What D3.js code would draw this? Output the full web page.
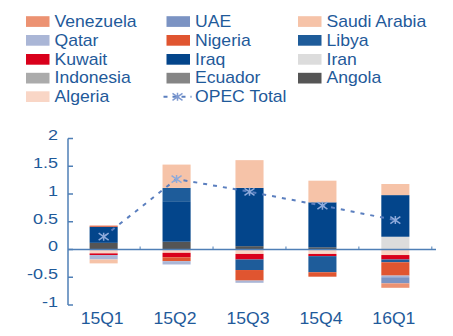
<!DOCTYPE html>
<html>
<head>
<meta charset="utf-8">
<script src="https://cdn.jsdelivr.net/npm/d3@7"></script>
<style>
  html, body { margin: 0; padding: 0; background: #fff; }
  svg { display: block; font-family: "Liberation Sans", Arial, sans-serif; }
</style>
</head>
<body>
<svg id="chart" width="453" height="336"></svg>
<script>
// ---- data ----
const quarters = ["15Q1", "15Q2", "15Q3", "15Q4", "16Q1"];
const countries = ["Algeria", "Angola", "Ecuador", "Indonesia", "Iran", "Iraq", "Kuwait",
  "Libya", "Nigeria", "Qatar", "Saudi Arabia", "UAE", "Venezuela"];
const algeria     = [-0.07, -0.06, -0.08, -0.08, -0.10];
const angola      = [ 0.12,  0.14,  0.06,  0.04,  0.00];
const ecuador     = [ 0.00,  0.00,  0.00,  0.00,  0.00];
const indonesia   = [ 0.00,  0.00,  0.00,  0.00,  0.00];
const iran        = [ 0.00,  0.00,  0.00,  0.00,  0.23];
const iraq        = [ 0.29,  0.73,  1.05,  0.81,  0.75];
const kuwait      = [-0.03, -0.08, -0.10, -0.04, -0.08];
const libya       = [ 0.00,  0.24, -0.19, -0.29, -0.05];
const nigeria     = [ 0.02, -0.07, -0.19, -0.08, -0.24];
const qatar       = [-0.08, -0.06, -0.04,  0.00, -0.03];
const saudiArabia = [-0.07,  0.42,  0.50,  0.39,  0.20];
const uae         = [ 0.00,  0.00,  0.00,  0.00, -0.11];
const venezuela   = [ 0.00,  0.00,  0.00,  0.00, -0.08];
const opecTotal   = [ 0.23,  1.27,  1.04,  0.79,  0.53];
const yTicks = [-1, -0.5, 0, 0.5, 1, 1.5, 2];
const yTickLabels = ["-1", "-0.5", "0", "0.5", "1", "1.5", "2"];

const seriesValues = {
  "Algeria": algeria, "Angola": angola, "Ecuador": ecuador, "Indonesia": indonesia,
  "Iran": iran, "Iraq": iraq, "Kuwait": kuwait, "Libya": libya, "Nigeria": nigeria,
  "Qatar": qatar, "Saudi Arabia": saudiArabia, "UAE": uae, "Venezuela": venezuela
};
const colors = {
  "Venezuela": "#ec9272", "UAE": "#7b93c3", "Saudi Arabia": "#f6c3a8",
  "Qatar": "#aab6d6", "Nigeria": "#e05530", "Libya": "#1e5c9a",
  "Kuwait": "#d9001b", "Iraq": "#03458b", "Iran": "#dcdcdc",
  "Indonesia": "#ababab", "Ecuador": "#858585", "Angola": "#555555",
  "Algeria": "#f9d6c6"
};
const textColor = "#1f5a9a";
const axisColor = "#4f7fb6";
const lineColor = "#5b7fbf";
const markerColor = "#8eaadb";

// ---- build table ----
const table = quarters.map((q, i) => {
  const row = { quarter: q };
  countries.forEach(c => row[c] = seriesValues[c][i]);
  return row;
});

const svg = d3.select("#chart");

const x = d3.scaleBand().domain(quarters).range([67, 432]).paddingInner(0.615).paddingOuter(0.31);
const y = d3.scaleLinear().domain([-1, 2]).range([305, 138.5]);

const stack = d3.stack().keys(countries).order(d3.stackOrderNone).offset(d3.stackOffsetDiverging);
const stacked = stack(table);

// bars
svg.append("g").selectAll("g").data(stacked).join("g")
  .attr("fill", d => colors[d.key])
  .selectAll("rect").data(d => d).join("rect")
  .attr("x", d => x(d.data.quarter))
  .attr("width", x.bandwidth())
  .attr("y", d => y(Math.max(d[0], d[1])))
  .attr("height", d => Math.abs(y(d[0]) - y(d[1])));

// y axis
const yAxis = svg.append("g");
yAxis.append("line")
  .attr("x1", 68).attr("x2", 68)
  .attr("y1", y(2)).attr("y2", y(-1))
  .attr("stroke", axisColor).attr("stroke-width", 1.5);
yAxis.selectAll(".tk").data(yTicks).join("line")
  .attr("x1", 68).attr("x2", 73)
  .attr("y1", d => y(d)).attr("y2", d => y(d))
  .attr("stroke", axisColor).attr("stroke-width", 1.5);
yAxis.selectAll(".lb").data(yTicks).join("g")
  .attr("transform", d => `translate(58,${y(d) + 1.8}) scale(1.2,1)`)
  .append("text")
  .attr("text-anchor", "end")
  .attr("font-size", 15)
  .attr("fill", textColor)
  .text((d, i) => yTickLabels[i]);

// zero line (x axis)
svg.append("line")
  .attr("x1", 68).attr("x2", x.range()[1] + 4)
  .attr("y1", y(0)).attr("y2", y(0))
  .attr("stroke", axisColor).attr("stroke-width", 1.5);
// small category boundary ticks
svg.append("g").selectAll("line").data(quarters).join("line")
  .attr("x1", d => x(d) + x.bandwidth() / 2 + x.step() / 2)
  .attr("x2", d => x(d) + x.bandwidth() / 2 + x.step() / 2)
  .attr("y1", y(0)).attr("y2", y(0) - 3)
  .attr("stroke", axisColor).attr("stroke-width", 1);

// x labels
svg.append("g").selectAll("g").data(quarters).join("g")
  .attr("transform", d => `translate(${x(d) + x.bandwidth() / 2 - 1.5},323.5) scale(1.1,1)`)
  .append("text")
  .attr("text-anchor", "middle")
  .attr("font-size", 16)
  .attr("fill", textColor)
  .text(d => d);

// OPEC total line
const line = d3.line()
  .x((d, i) => x(quarters[i]) + x.bandwidth() / 2)
  .y(d => y(d));
svg.append("path")
  .attr("d", line(opecTotal))
  .attr("fill", "none")
  .attr("stroke", lineColor)
  .attr("stroke-width", 2)
  .attr("stroke-dasharray", "4,6");

function star(sel) {
  sel.append("path")
    .attr("d", "M-5,-3.5L5,3.5M-5,3.5L5,-3.5M0,-4L0,4")
    .attr("fill", "none")
    .attr("stroke", markerColor)
    .attr("stroke-width", 1.5);
}
svg.append("g").selectAll("g").data(opecTotal).join("g")
  .attr("transform", (d, i) => `translate(${x(quarters[i]) + x.bandwidth() / 2},${y(d)})`)
  .each(function () { star(d3.select(this)); });

// legend
const legendItems = countries.slice().reverse().concat(["OPEC Total"]);
const colX = [26, 166.5, 298];
const rowY = [26.7, 45.5, 64.5, 83.3, 101.8];
const lg = svg.append("g");
legendItems.forEach((name, i) => {
  const col = i % 3, row = Math.floor(i / 3);
  const gx = colX[col], gy = rowY[row];
  const g = lg.append("g");
  if (name === "OPEC Total") {
    g.append("line")
      .attr("x1", gx - 3).attr("x2", gx + 25)
      .attr("y1", gy - 5).attr("y2", gy - 5)
      .attr("stroke", lineColor).attr("stroke-width", 2)
      .attr("stroke-dasharray", "4,5");
    const m = g.append("g").attr("transform", `translate(${gx + 11},${gy - 5})`);
    star(m);
    m.select("path").attr("stroke", "#7f9ad0");
  } else {
    g.append("rect")
      .attr("x", gx).attr("y", gy - 10.5)
      .attr("width", 23.5).attr("height", 10.7)
      .attr("fill", colors[name]);
  }
  g.append("g")
    .attr("transform", `translate(${gx + 28.5},${gy}) scale(1.1,1)`)
    .append("text")
    .attr("font-size", 16)
    .attr("fill", textColor)
    .text(name);
});
</script>
</body>
</html>
